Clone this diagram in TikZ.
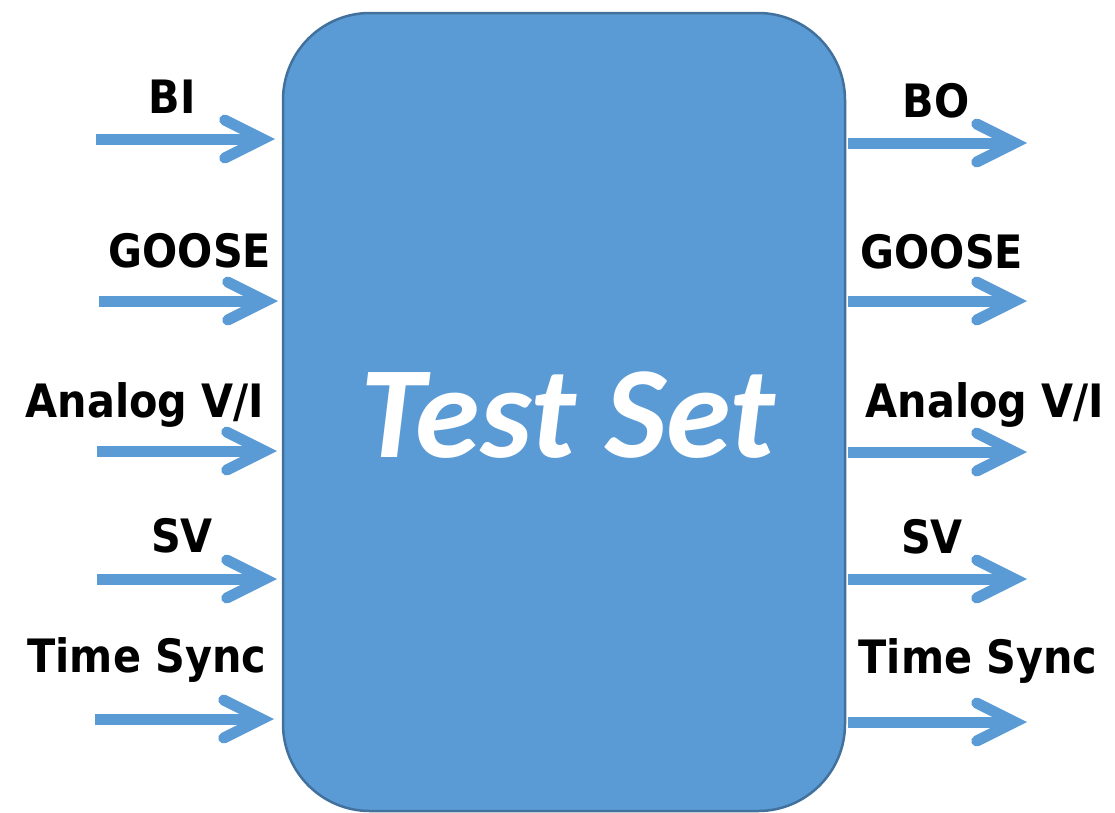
\documentclass[tikz,border=0pt]{standalone}
\usepackage{fontspec}
\setmainfont{DejaVu Sans}
\newfontfamily\lblfont[FakeStretch=0.9]{DejaVu Sans}
\newfontfamily\boxfont{Carlito}
\usetikzlibrary{arrows.meta}
\definecolor{sigblue}{RGB}{91,155,213}
\definecolor{edgeblue}{RGB}{65,113,156}

\begin{document}
\begin{tikzpicture}[x=1pt, y=-1pt,
    sig/.style={line width=11pt, draw=sigblue,
        -{Straight Barb[length=38pt, width=38pt, line cap=round, line join=miter]}},
    lbl/.style={anchor=base, font=\lblfont\fontsize{46}{54}\bfseries}]
    \useasboundingbox (0,0) rectangle (1115,812);
    \coordinate (TL) at (283,13);
    \coordinate (BR) at (845,811);

    % the test set
    \draw [fill=sigblue, draw=edgeblue, line width=2.5pt, rounded corners=87pt] (TL) rectangle (BR);
    \node [anchor=base, text=white, font=\boxfont\fontsize{131}{136}\bfseries\itshape] (testset) at (568,457) {Test Set};

    % inputs
    \foreach \nm/\ys/\xa/\xb in {bi/139/96/275, goose/301/99/278, analog/451/97/277, sv/579/97/277, sync/719/95/274}
    {
        \coordinate (in-\nm-a) at (\xa,\ys);
        \coordinate (in-\nm-b) at (\xb,\ys);
        \draw [sig] (in-\nm-a) -- (in-\nm-b);
    }
    \node [lbl] (inBI) at (172,113) {BI};
    \node [lbl] (inGOOSE) at (190,267) {GOOSE};
    \node [lbl] (inAnalog) at (145,417) {Analog V/I};
    \node [lbl] (inSV) at (182,552) {SV};
    \node [lbl] (inSync) at (147,672) {Time Sync};

    % outputs
    \foreach \nm/\ys in {bo/143, goose/301, analog/452, sv/579, sync/722}
    {
        \coordinate (out-\nm-a) at (848,\ys);
        \coordinate (out-\nm-b) at (1027,\ys);
        \draw [sig] (out-\nm-a) -- (out-\nm-b);
    }
    \node [lbl] (outBO) at (936,117) {BO};
    \node [lbl] (outGOOSE) at (942,268) {GOOSE};
    \node [lbl] (outAnalog) at (985,417) {Analog V/I};
    \node [lbl] (outSV) at (932,553) {SV};
    \node [lbl] (outSync) at (978,673) {Time Sync};
\end{tikzpicture}
\end{document}
